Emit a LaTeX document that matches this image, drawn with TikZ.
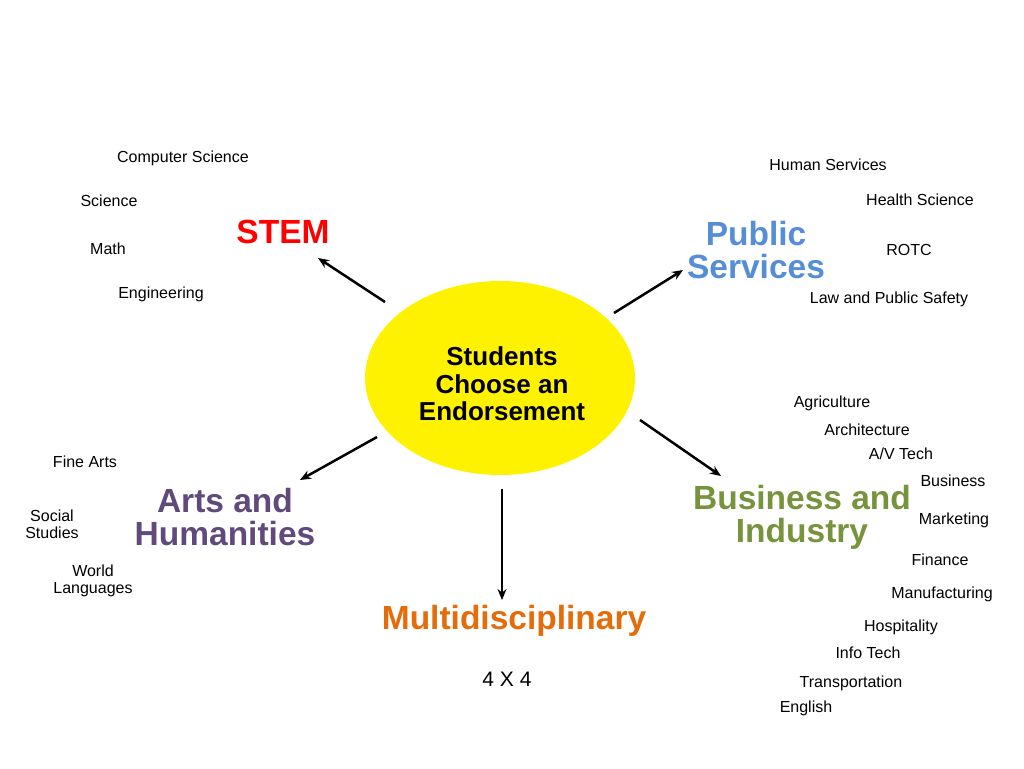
\documentclass[tikz,border=0pt]{standalone}
\usepackage{fontspec}
\setmainfont{Liberation Sans}
\usetikzlibrary{arrows.meta,shapes.geometric}
\definecolor{stemred}{RGB}{255,0,0}
\definecolor{pubblue}{RGB}{85,142,213}
\definecolor{artpurple}{RGB}{96,73,123}
\definecolor{busgreen}{RGB}{119,147,60}
\definecolor{multorange}{RGB}{228,108,10}
\begin{document}
\begin{tikzpicture}[x=1pt,y=-1pt,
  sm/.style={font=\fontsize{16}{17}\selectfont,inner sep=0pt},
  big/.style={font=\fontsize{33.5}{33}\bfseries\selectfont,inner sep=0pt,align=center},
  arr/.style={-{Stealth[length=11pt,width=9pt]},line width=2.5pt}]
\useasboundingbox (0,0) rectangle (1024,768);
\node[fill=yellow,ellipse,minimum width=270,minimum height=194,inner sep=0pt] (c) at (500,378) {};
\node[font=\fontsize{26}{27.5}\bfseries\selectfont,align=center,inner sep=0pt] (ct) at (502,384) {Students\\Choose an\\Endorsement};
\node[big,text=stemred] (stem) at (283,232) {STEM};
\node[big,text=pubblue] (pub) at (756,250) {Public\\Services};
\node[big,text=artpurple] (art) at (225,517) {Arts and\\Humanities};
\node[big,text=busgreen] (bus) at (802,517) {Business and\\Industry};
\node[big,text=multorange] (mul) at (514,621) {Multidisciplinary};
\node[font=\fontsize{21}{21}\selectfont] (four) at (507,679) {4 X 4};
\coordinate (a1s) at (385,302); \coordinate (a1e) at (318,258);
\coordinate (a2s) at (614,313); \coordinate (a2e) at (683,270);
\coordinate (a3s) at (377,437); \coordinate (a3e) at (300,480);
\coordinate (a4s) at (640,420); \coordinate (a4e) at (721,476);
\coordinate (a5s) at (502,489); \coordinate (a5e) at (502,600);
\draw[arr] (a1s) -- (a1e);
\draw[arr] (a2s) -- (a2e);
\draw[arr] (a3s) -- (a3e);
\draw[arr] (a4s) -- (a4e);
\draw[arr] (a5s) -- (a5e);
\node[sm] (t1) at (183,158) {Computer Science};
\node[sm] (t2) at (109,201) {Science};
\node[sm] (t3) at (108,249) {Math};
\node[sm] (t4) at (161,294) {Engineering};
\node[sm] (t5) at (828,165) {Human Services};
\node[sm] (t6) at (920,200) {Health Science};
\node[sm] (t7) at (909,250) {ROTC};
\node[sm] (t8) at (889,299) {Law and Public Safety};
\node[sm] (t9) at (85,462) {Fine Arts};
\node[sm,align=center] (t10) at (52,524) {Social\\Studies};
\node[sm,align=center] (t11) at (93,581) {World\\Languages};
\node[sm] (b1) at (832,403) {Agriculture};
\node[sm] (b2) at (867,430) {Architecture};
\node[sm] (b3) at (901,454) {A/V Tech};
\node[sm] (b4) at (953,481) {Business};
\node[sm] (b5) at (954,520) {Marketing};
\node[sm] (b6) at (940,560) {Finance};
\node[sm] (b7) at (942,594) {Manufacturing};
\node[sm] (b8) at (901,627) {Hospitality};
\node[sm] (b9) at (868,653) {Info Tech};
\node[sm] (b10) at (851,683) {Transportation};
\node[sm] (b11) at (806,708) {English};
\end{tikzpicture}
\end{document}
